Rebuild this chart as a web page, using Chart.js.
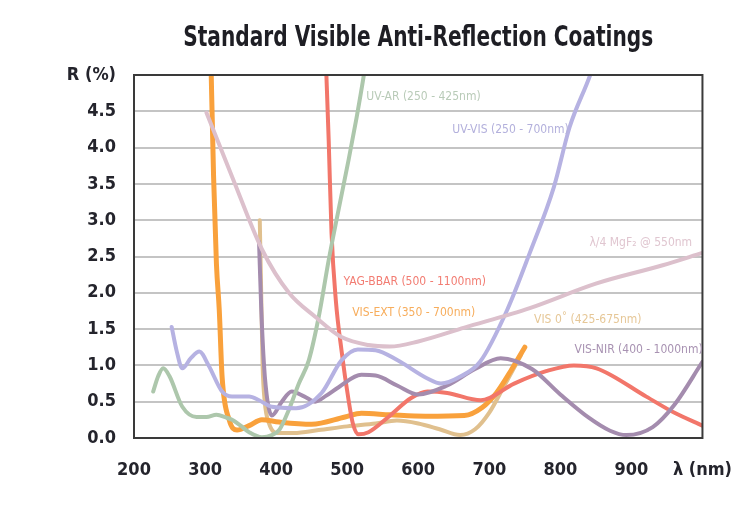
<!DOCTYPE html>
<html>
<head>
<meta charset="utf-8">
<script src="https://cdn.jsdelivr.net/npm/chart.js@4.4.1/dist/chart.umd.min.js"></script>
<style>
  html, body { margin: 0; padding: 0; background: #ffffff; }
  #wrap { width: 754px; height: 511px; position: relative; }
</style>
</head>
<body>
<div id="wrap"><canvas id="c" width="754" height="511"></canvas></div>
<script>
// ---------- DATA ----------
const chartTitle = 'Standard Visible Anti-Reflection Coatings';
const xTicks = [200, 300, 400, 500, 600, 700, 800, 900, 1000];
const yTicks = [0, 0.5, 1, 1.5, 2, 2.5, 3, 3.5, 4, 4.5, 5];

const uvArNm  = [227, 234, 241, 250, 268, 288, 302, 316, 330, 338, 350, 362, 380, 394, 405, 418, 432, 446, 460, 474, 488, 502, 513, 523, 528];
const uvArR   = [0.64, 0.85, 0.96, 0.85, 0.43, 0.29, 0.29, 0.32, 0.28, 0.25, 0.17, 0.08, 0.01, 0.04, 0.12, 0.39, 0.75, 1.07, 1.67, 2.45, 3.15, 3.83, 4.4, 4.97, 5.3];

const uvVisNm = [253, 260, 268, 280, 292, 305, 324, 338, 362, 376, 394, 428, 464, 492, 515, 540, 571, 613, 632, 660, 687, 725, 757, 791, 813, 842, 852];
const uvVisR  = [1.53, 1.2, 0.96, 1.1, 1.19, 1.0, 0.64, 0.57, 0.57, 0.52, 0.43, 0.41, 0.62, 1.07, 1.22, 1.21, 1.07, 0.82, 0.75, 0.85, 1.05, 1.76, 2.55, 3.46, 4.28, 5.0, 5.3];

const mgf2Nm  = [302, 340, 380, 418, 455, 492, 530, 560, 600, 665, 757, 851, 944, 1000];
const mgf2R   = [4.48, 3.55, 2.6, 2.0, 1.67, 1.39, 1.28, 1.26, 1.33, 1.52, 1.79, 2.13, 2.38, 2.55];

const visExtNm = [308, 312, 316, 320, 324, 334, 345, 362, 380, 404, 450, 497, 520, 560, 610, 665, 690, 710, 730, 750];
const visExtR  = [5.3, 3.6, 2.4, 1.76, 0.84, 0.25, 0.11, 0.17, 0.25, 0.22, 0.19, 0.29, 0.34, 0.32, 0.3, 0.31, 0.42, 0.62, 0.92, 1.25];

const vis0Nm  = [377, 379, 381, 384, 390, 402, 425, 460, 500, 540, 570, 600, 630, 659, 680, 700, 720, 745];
const vis0R   = [3.0, 2.0, 1.0, 0.5, 0.2, 0.07, 0.07, 0.11, 0.16, 0.2, 0.24, 0.2, 0.12, 0.04, 0.12, 0.35, 0.7, 1.15];

const visNirNm = [376, 379, 383, 388, 394, 408, 422, 440, 455, 470, 488, 520, 540, 571, 600, 640, 680, 716, 760, 800, 840, 870, 893, 930, 960, 1000];
const visNirR  = [2.7, 1.8, 1.0, 0.5, 0.31, 0.5, 0.64, 0.57, 0.5, 0.58, 0.7, 0.87, 0.86, 0.72, 0.6, 0.72, 0.95, 1.1, 0.95, 0.6, 0.28, 0.1, 0.04, 0.15, 0.45, 1.05];

const yagNm   = [470, 474, 478, 484, 492, 502, 508, 516, 530, 558, 590, 613, 641, 688, 735, 780, 819, 851, 921, 960, 1000];
const yagR    = [5.2, 4.1, 2.82, 1.9, 1.21, 0.52, 0.2, 0.05, 0.08, 0.29, 0.55, 0.64, 0.62, 0.52, 0.75, 0.92, 1.0, 0.96, 0.57, 0.35, 0.17];

// Series labels and where (in data units) their captions sit
const seriesNames = ['UV-AR (250 - 425nm)', 'UV-VIS (250 - 700nm)', 'λ/4 MgF₂ @ 550nm', 'VIS-EXT (350 - 700nm)', 'VIS 0˚ (425-675nm)', 'VIS-NIR (400 - 1000nm)', 'YAG-BBAR (500 - 1100nm)'];
const captionNm = [527, 648, 841, 507, 763, 820, 495];
const captionR  = [4.7, 4.24, 2.69, 1.72, 1.63, 1.21, 2.15];

// ---------- STYLES ----------
const lineColors = ['#adc7ac', '#b6b2e2', '#dcc0cc', '#f9a13c', '#e0c08e', '#a48cae', '#f2766a'];
const textColors = ['#b9cbb8', '#b3b0dc', '#e0c6d0', '#f7ad5c', '#e6c797', '#a892b2', '#f27c72'];
const widths     = [4, 4, 4, 5, 4, 4, 4];

const FONT = "'Liberation Sans Narrow', 'DejaVu Sans Condensed', sans-serif";

function pts(xs, ys) { return xs.map((x, i) => ({ x: x, y: ys[i] })); }
const series = [
  pts(uvArNm, uvArR), pts(uvVisNm, uvVisR), pts(mgf2Nm, mgf2R),
  pts(visExtNm, visExtR), pts(vis0Nm, vis0R), pts(visNirNm, visNirR), pts(yagNm, yagR)
];
// draw order: lighter ones first
const order = [2, 1, 0, 5, 6, 3, 4];

const datasets = order.map(i => ({
  label: seriesNames[i],
  data: series[i],
  borderColor: lineColors[i],
  borderWidth: widths[i],
  pointRadius: 0,
  fill: false,
  tension: 0.4,
  cubicInterpolationMode: 'monotone',
  borderCapStyle: 'round',
  borderJoinStyle: 'round'
}));

const framePlugin = {
  id: 'frame',
  afterDatasetsDraw(chart) {
    const { ctx, chartArea: a } = chart;
    ctx.save();
    ctx.strokeStyle = '#3a3a3a';
    ctx.lineWidth = 2;
    ctx.strokeRect(a.left, a.top, a.right - a.left, a.bottom - a.top);
    ctx.restore();
  },
  afterDraw(chart) {
    const { ctx, chartArea: a } = chart;
    const xs = chart.scales.x, ys = chart.scales.y;
    ctx.save();
    // captions
    ctx.font = '12px ' + FONT;
    ctx.textBaseline = 'middle';
    ctx.textAlign = 'left';
    seriesNames.forEach((name, i) => {
      ctx.fillStyle = textColors[i];
      ctx.fillText(name, xs.getPixelForValue(captionNm[i]), ys.getPixelForValue(captionR[i]));
    });
    // title, condensed to the reference's width and centred over the plot
    ctx.font = 'bold 28px ' + FONT;
    ctx.fillStyle = '#1e1e24';
    ctx.textAlign = 'center';
    ctx.textBaseline = 'alphabetic';
    const w = ctx.measureText(chartTitle).width;
    const sx = Math.min(1, 470 / w);
    const cx = (a.left + a.right) / 2;
    ctx.translate(cx, 46);
    ctx.scale(sx, 1);
    ctx.fillText(chartTitle, 0, 0);
    ctx.restore();
  }
};

new Chart(document.getElementById('c'), {
  type: 'line',
  data: { datasets },
  options: {
    responsive: false,
    animation: false,
    devicePixelRatio: 1,
    layout: { padding: { left: 0, right: 48, top: 75, bottom: 0 } },
    plugins: {
      legend: { display: false },
      tooltip: { enabled: false },
      title: { display: false }
    },
    scales: {
      x: {
        type: 'linear',
        min: 200, max: 1000,
        afterBuildTicks(scale) { scale.ticks = xTicks.map(v => ({ value: v })); },
        afterFit(scale) { scale.height = 73; },
        grid: { display: false, drawTicks: false },
        border: { display: true, color: '#3a3a3a', width: 2 },
        ticks: {
          padding: 22,
          color: '#24242c',
          font: { family: FONT, size: 18, weight: 'bold' },
          maxRotation: 0,
          autoSkip: false,
          callback: (v) => v === 1000 ? 'λ (nm)' : String(v)
        }
      },
      y: {
        min: 0, max: 5,
        afterBuildTicks(scale) { scale.ticks = yTicks.map(v => ({ value: v })); },
        afterFit(scale) { scale.width = 134; },
        grid: { color: '#c4c4c4', lineWidth: 2, drawTicks: false },
        border: { display: true, color: '#3a3a3a', width: 2 },
        ticks: {
          padding: 18,
          color: '#24242c',
          font: { family: FONT, size: 18, weight: 'bold' },
          autoSkip: false,
          callback: (v) => v === 5 ? 'R (%)' : Number(v).toFixed(1)
        }
      }
    }
  },
  plugins: [framePlugin]
});
</script>
</body>
</html>
